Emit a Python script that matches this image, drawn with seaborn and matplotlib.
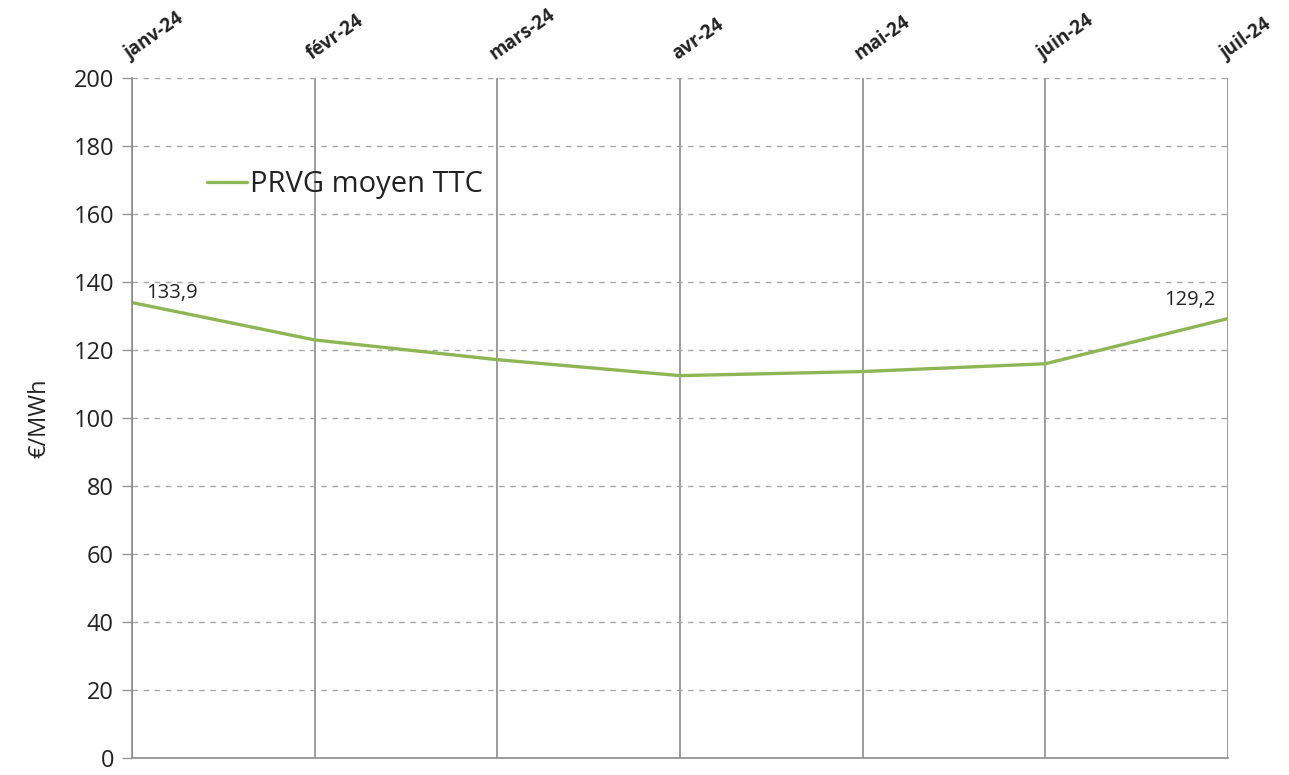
import numpy as np
import pandas as pd
import matplotlib.pyplot as plt
import seaborn as sns

# Data
months = ["janv-24", "févr-24", "mars-24", "avr-24", "mai-24", "juin-24", "juil-24"]
prvg = [133.9, 122.9, 117.1, 112.4, 113.6, 115.9, 129.2]

data = pd.DataFrame({"idx": np.arange(len(months)), "month": months, "value": prvg})

sns.set_style("white")
plt.rcParams["font.family"] = ["Open Sans", "DejaVu Sans"]

fig = plt.figure(figsize=(12.89, 7.75), dpi=100)
ax = fig.add_axes([0.1024, 0.0225, 0.8503, 0.8769])

sns.lineplot(data=data, x="idx", y="value", color="#8db654", linewidth=2.4,
             label="PRVG moyen TTC", ax=ax)

ax.set_xlim(0, len(months) - 1)
ax.set_ylim(0, 200)
ax.set_yticks(np.arange(0, 201, 20))
ax.set_xticks(data["idx"])
ax.xaxis.tick_top()
ax.set_xticklabels(months, rotation=35, ha="left", va="bottom",
                   rotation_mode="anchor", fontsize=13.5, fontweight="bold",
                   color="#222222")
ax.tick_params(axis="x", length=0, pad=10)
ax.tick_params(axis="y", labelsize=17, length=7, width=1, color="#999999",
               direction="out", left=True, labelcolor="#222222", pad=6)
ax.set_xlabel("")
ax.set_ylabel("€/MWh", fontsize=17, color="#222222", labelpad=16)

# Grid: dashed horizontal, solid vertical
ax.grid(axis="y", linestyle=(0, (4, 4)), color="#a6a6a6", linewidth=1)
ax.grid(axis="x", linestyle="-", color="#8c8c8c", linewidth=1.2)
ax.set_axisbelow(True)

for side in ["top", "right"]:
    ax.spines[side].set_visible(False)
ax.spines["left"].set_color("#8c8c8c")
ax.spines["left"].set_linewidth(1.2)
ax.spines["bottom"].set_color("#8c8c8c")
ax.spines["bottom"].set_linewidth(1.2)

# Data labels on first and last points
ax.annotate(f"{prvg[0]:.1f}".replace(".", ","), (data["idx"].iloc[0], prvg[0]),
            xytext=(10, 0), textcoords="offset points", fontsize=14.5,
            color="#222222", va="bottom")
ax.annotate(f"{prvg[-1]:.1f}".replace(".", ","), (data["idx"].iloc[-1], prvg[-1]),
            xytext=(-46, 6), textcoords="offset points", fontsize=14.5,
            color="#222222", va="bottom")

leg = ax.legend(loc="upper left", bbox_to_anchor=(0.058, 0.882), frameon=False,
                fontsize=21, handlelength=1.35, handletextpad=0.1,
                borderaxespad=0)
for t in leg.get_texts():
    t.set_color("#222222")

fig.savefig("out.png", dpi=100)
